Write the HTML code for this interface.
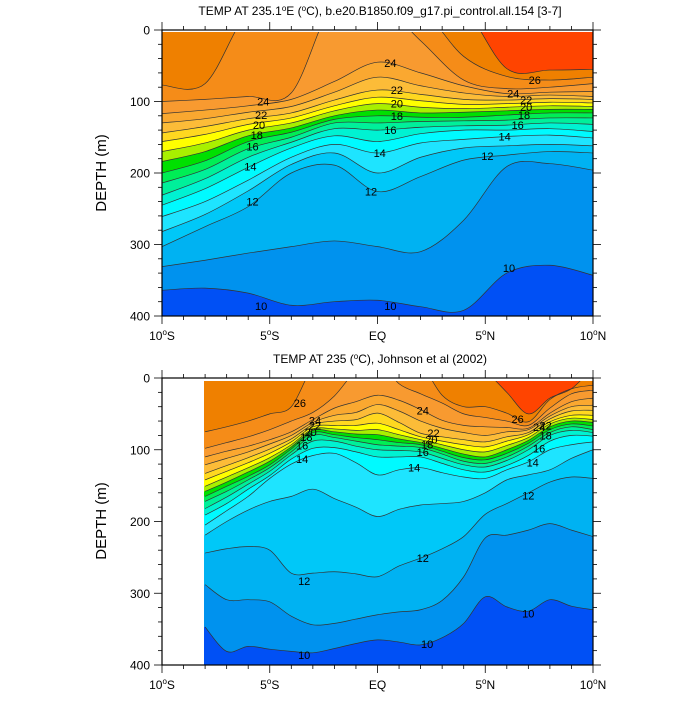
<!DOCTYPE html>
<html><head><meta charset="utf-8"><style>
html,body{margin:0;padding:0;background:#fff;}
svg text{font-family:"Liberation Sans",sans-serif;}
</style></head><body>
<svg id="chart" width="700" height="700" viewBox="0 0 700 700" xmlns="http://www.w3.org/2000/svg">
<defs>
<clipPath id="clipTop"><rect x="162" y="32" width="431" height="284"/></clipPath>
<clipPath id="clipBot"><rect x="204" y="381" width="389" height="284"/></clipPath>
</defs>
<g id="topFill" clip-path="url(#clipTop)"></g>
<g id="botFill" clip-path="url(#clipBot)"></g>
<g id="labels" font-size="11" text-anchor="middle"></g>
<g id="axes"></g>
<text x="380" y="15" font-size="12" text-anchor="middle">TEMP AT 235.1<tspan font-size="8" dy="-4">o</tspan><tspan dy="4">E (</tspan><tspan font-size="8" dy="-4">o</tspan><tspan dy="4">C), b.e20.B1850.f09_g17.pi_control.all.154 [3-7]</tspan></text>
<text x="380" y="363" font-size="12" text-anchor="middle">TEMP AT 235 (<tspan font-size="8" dy="-4">o</tspan><tspan dy="4">C), Johnson et al (2002)</tspan></text>
<text x="106" y="173" font-size="15" text-anchor="middle" transform="rotate(-90 106 173)">DEPTH (m)</text>
<text x="106" y="521" font-size="15" text-anchor="middle" transform="rotate(-90 106 521)">DEPTH (m)</text>
</svg>
<script>
const topLats = [-10,-8,-6,-4,-2,0,2,4,6,8,10];
const levels = [10,11,12,13,14,15,16,17,18,19,20,21,22,23,24,25,26,27];
const topD10 = [364,361,368,385,380,378,387,392,340,329,343];
const topD11 = [331,322,312,303,295,303,310,266,191,187,196];
const topD12 = [303,275,247,200,189,226,205,182,175,170,172];
const topD13 = [282,258,225,188,172,200,178,165,162,160,162];
const topD14 = [261,240,210,178,160,172,158,153,149,147,151];
const topD15 = [245,222,192,165,148,156,145,140,140,138,142];
const topD16 = [231,208,178,157,138,140,136,134,133,130,132];
const topD17 = [214,195,166,150,130,130,128,127,126,123,123];
const topD18 = [200,183,156,143,125,120,122,122,119,116,116];
const topD19 = [184,170,148,137,120,112,116,115,113,111,111];
const topD20 = [170,158,140,130,113,103,108,110,108,106,107];
const topD21 = [156,146,132,123,106,94,99,104,103,101,102];
const topD22 = [144,135,124,116,98,84,90,97,98,96,97];
const topD23 = [130,124,115,107,87,66,78,88,93,91,93];
const topD24 = [117,112,106,97,72,45,60,78,89,87,86];
const topD25 = [100,97,93,88,-40,-40,15,70,82,80,75];
const topD26 = [77,75,-25,-40,-40,-40,-30,37,65,70,66];
const topD27 = [-40,-40,-40,-40,-40,-40,-40,-30,54,56,55];
const botLats = [-8,-7,-6,-5,-4,-3,-2,-1,0,1,2,3,4,5,6,7,8,9,10];
const botD10 = [347,381,374,378,381,383,377,370,365,368,372,362,342,305,319,325,309,318,323];
const botD11 = [288,309,309,312,332,344,342,336,330,326,323,310,277,223,219,212,203,212,221];
const botD12 = [244,238,235,240,272,272,270,273,277,262,251,238,221,190,175,160,145,138,140];
const botD13 = [219,200,184,172,165,155,168,180,193,183,177,175,172,160,142,135,128,112,100];
const botD14 = [205,185,165,140,120,108,105,118,135,128,125,132,138,140,128,117,100,93,89];
const botD15 = [191,175,155,136,113,98,97,103,110,110,110,119,128,131,122,108,88,80,81];
const botD16 = [182,166,148,130,107,88,88,95,100,101,103,112,121,124,115,100,80,73,76];
const botD17 = [172,158,142,125,103,80,83,88,93,95,97,106,116,119,110,95,76,68,72];
const botD18 = [165,151,137,121,99,76,79,83,86,90,93,102,111,114,105,91,72,64,67];
const botD19 = [158,145,131,116,96,73,75,78,79,85,90,98,106,110,100,87,68,60,62];
const botD20 = [151,138,125,111,93,71,71,73,72,79,86,93,100,103,94,83,64,56,58];
const botD21 = [142,130,118,105,89,68,66,66,63,72,82,88,93,96,88,79,61,52,52];
const botD22 = [133,122,111,99,85,65,60,58,49,62,77,82,86,89,82,76,57,46,45];
const botD23 = [121,112,103,92,80,62,52,48,37,46,60,70,76,80,75,72,53,40,38];
const botD24 = [110,102,95,86,75,58,42,33,24,31,44,59,66,68,69,70,49,33,28];
const botD25 = [98,90,82,72,60,48,25,-10,-25,8,22,35,50,55,60,66,42,22,17];
const botD26 = [75,68,60,50,40,-15,-30,-30,-30,-30,-20,24,40,40,49,61,30,15,10];
const botD27 = [-30,-30,-30,-30,-30,-30,-30,-30,-30,-30,-30,-30,-30,-10,20,50,28,15,-15];
const depthTicks = [0,100,200,300,400];
const latTicks = [-10,-5,0,5,10];
const latTickText = ["10","5","EQ","5","10"];
const latTickHemi = ["S","S","","N","N"];
const topLabelText = ["24","22","20","18","16","14","12","24","22","20","18","16","14","12","26","24","22","20","18","16","14","12","10","10","10"];
const topLabelLat = [-5.3,-5.4,-5.5,-5.6,-5.8,-5.9,-5.8,0.6,0.9,0.9,0.9,0.6,0.1,-0.3,7.3,6.3,6.9,6.9,6.8,6.5,5.9,5.1,-5.4,0.6,6.1];
const topLabelDepth = [100,119,133,147,163,191,240,46,84,103,120,140,172,226,70,89,98,108,119,133,149,176,386,386,333];
const botLabelText = ["26","24","22","20","18","16","14","24","22","20","18","16","14","26","24","22","18","16","14","12","12","12","10","10","10"];
const botLabelLat = [-3.6,-2.9,-2.9,-3.1,-3.3,-3.5,-3.5,2.1,2.6,2.5,2.3,2.1,1.7,6.5,7.5,7.8,7.8,7.5,7.2,7.0,2.1,-3.4,-3.4,2.3,7.0];
const botLabelDepth = [35,59,66,75,82,94,113,45,77,86,93,103,125,57,68,66,80,98,118,164,251,283,386,371,328];
const bandColors = ["#0050f5","#0092ee","#00b2f2","#00c8f8","#1ee4ff","#00faff","#00f2d2","#00f09a","#00ee55","#00e000","#a8f000","#ffff00","#ffd820","#fcbc38","#faa830","#f89a30","#f58c18","#ef8000","#ff4400"];

const topData = [topD10,topD11,topD12,topD13,topD14,topD15,topD16,topD17,topD18,topD19,topD20,topD21,topD22,topD23,topD24,topD25,topD26,topD27];
const botData = [botD10,botD11,botD12,botD13,botD14,botD15,botD16,botD17,botD18,botD19,botD20,botD21,botD22,botD23,botD24,botD25,botD26,botD27];

const NS = "http://www.w3.org/2000/svg";
function mk(tag, attrs, parent){const e=document.createElementNS(NS,tag);for(const k in attrs)e.setAttribute(k,attrs[k]);parent.appendChild(e);return e;}
const X0=162, X1=593;
function xScale(lat){return X0+(lat+10)/20*(X1-X0);}
function yScaleTop(d){return 30+d/400*286;}
function yScaleBot(d){return 378+d/400*287;}

function curve(pts){
  let s="M"+pts[0][0].toFixed(2)+","+pts[0][1].toFixed(2);
  for(let i=0;i<pts.length-1;i++){
    const p0=pts[Math.max(0,i-1)],p1=pts[i],p2=pts[i+1],p3=pts[Math.min(pts.length-1,i+2)];
    const c1x=p1[0]+(p2[0]-p0[0])/6,c1y=p1[1]+(p2[1]-p0[1])/6;
    const c2x=p2[0]-(p3[0]-p1[0])/6,c2y=p2[1]-(p3[1]-p1[1])/6;
    s+=" C"+c1x.toFixed(2)+","+c1y.toFixed(2)+" "+c2x.toFixed(2)+","+c2y.toFixed(2)+" "+p2[0].toFixed(2)+","+p2[1].toFixed(2);
  }
  return s;
}
function drawPanel(g, lats, data, yS, x0, name){
  const bg=mk("rect",{x:x0,y:yS(0)-5,width:X1-x0,height:yS(400)-yS(0)+10,fill:bandColors[0]},g);
  
  
  const xl=xScale(lats[0])-3, xr=xScale(lats[lats.length-1])+3, yt=yS(0)-80;
  for(let k=0;k<levels.length;k++){
    const pts=lats.map((la,i)=>[xScale(la),yS(data[k][i])]);
    const d=curve(pts)+" L"+xr+","+pts[pts.length-1][1]+" L"+xr+","+yt+" L"+xl+","+yt+" L"+xl+","+pts[0][1]+" Z";
    const f=mk("path",{"d":d,"fill":bandColors[k+1],"stroke":"none"},g);
    
    
  }
  for(let k=0;k<levels.length;k++){
    const pts=lats.map((la,i)=>[xScale(la),yS(data[k][i])]);
    const ln=mk("path",{"d":curve(pts),"fill":"none","stroke":"#333","stroke-width":"0.7"},g);
    
    
  }
}
drawPanel(document.getElementById("topFill"), topLats, topData, yScaleTop, X0, "top");
drawPanel(document.getElementById("botFill"), botLats, botData, yScaleBot, 204, "bottom");

const lg=document.getElementById("labels");
function drawLabels(texts, lats, depths, yS, name){
  for(let i=0;i<texts.length;i++){
    const t=mk("text",{"x":xScale(lats[i]).toFixed(1),"y":(yS(depths[i])+4).toFixed(1)},lg);
    t.textContent=texts[i];
    
    
  }
}
drawLabels(topLabelText, topLabelLat, topLabelDepth, yScaleTop, "top");
drawLabels(botLabelText, botLabelLat, botLabelDepth, yScaleBot, "bottom");

const ax=document.getElementById("axes");
function drawAxes(yS, name){
  const yt=yS(0), yb=yS(400);
  const fr=mk("rect",{"x":X0,"y":yt,"width":X1-X0,"height":yb-yt,"fill":"none","stroke":"#000","stroke-width":"1.2"},ax);
  
  
  for(let la=-10;la<=10;la++){
    const x=xScale(la), L=(la%5===0)?8:4;
    mk("line",{"x1":x,"y1":yt,"x2":x,"y2":yt-L,"stroke":"#000","stroke-width":"0.8"},ax);
    mk("line",{"x1":x,"y1":yb,"x2":x,"y2":yb+L,"stroke":"#000","stroke-width":"0.8"},ax);
  }
  for(let d=0;d<=400;d+=20){
    const y=yS(d), L=(d%100===0)?8:4;
    mk("line",{"x1":X0,"y1":y,"x2":X0-L,"y2":y,"stroke":"#000","stroke-width":"0.8"},ax);
    mk("line",{"x1":X1,"y1":y,"x2":X1+L,"y2":y,"stroke":"#000","stroke-width":"0.8"},ax);
  }
  for(let i=0;i<depthTicks.length;i++){
    const t=mk("text",{"x":X0-12,"y":yS(depthTicks[i])+4.5,"font-size":"12","text-anchor":"end"},ax);
    t.textContent=depthTicks[i];
    
    
  }
  for(let i=0;i<latTicks.length;i++){
    const t=mk("text",{"x":xScale(latTicks[i]),"y":yb+24,"font-size":"12","text-anchor":"middle"},ax);
    
    
    if(latTickHemi[i]){
      const a=mk("tspan",{},t); a.textContent=latTickText[i];
      const b=mk("tspan",{"font-size":"8","dy":"-5"},t); b.textContent="o";
      const c=mk("tspan",{"dy":"5"},t); c.textContent=latTickHemi[i];
    } else { t.textContent=latTickText[i]; }
  }
}
drawAxes(yScaleTop, "top");
drawAxes(yScaleBot, "bottom");
</script>
</body></html>
